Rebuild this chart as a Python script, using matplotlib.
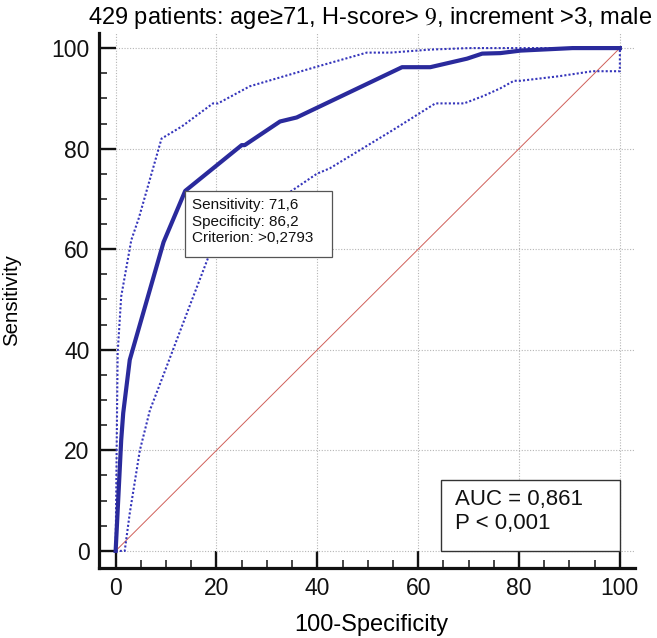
import matplotlib
matplotlib.use("Agg")
import matplotlib.pyplot as plt
from matplotlib.patches import Rectangle
from matplotlib.ticker import MultipleLocator

plt.rcParams['font.family'] = ['Liberation Sans', 'DejaVu Sans']
plt.rcParams['mathtext.fontset'] = 'stix'

# ---- data ----
roc_x = [0, 1.1, 1.5, 2.8, 9.5, 13.8, 25.0, 25.6, 32.6, 35.9, 56.8, 62.4, 69.7, 72.7, 76.3, 80.3, 90.6, 100]
roc_y = [0, 22.0, 27.4, 38.0, 61.4, 71.6, 80.7, 80.7, 85.4, 86.2, 96.2, 96.2, 97.9, 98.9, 99.0, 99.5, 100, 100]

upper_x = [0, 0.3, 0.4, 1.1, 3.1, 4.6, 9.1, 13.1, 19.3, 20.3, 26.6, 30.0, 39.9, 49.8, 54.5, 62.4, 70.0, 100]
upper_y = [0, 30.0, 39.4, 50.6, 61.8, 66.2, 82.0, 84.4, 89.0, 89.0, 92.4, 93.4, 96.3, 99.1, 99.1, 99.7, 100, 100]

lower_x = [0, 1.8, 2.8, 4.8, 6.8, 9.1, 14.9, 18.3, 25.0, 34.6, 39.9, 42.5, 54.5, 56.1, 63.4, 69.1, 73.0, 76.3, 79.0, 80.3, 87.9, 94.6, 100, 100]
lower_y = [0, 0, 7.5, 20.0, 28.0, 34.0, 49.3, 58.2, 63.5, 71.4, 75.0, 76.1, 83.4, 84.4, 89.0, 89.0, 90.5, 92.0, 93.5, 93.5, 94.4, 95.4, 95.4, 100]

diag = [0, 100]

op_sens = 71.6
op_spec = 86.2
criterion = ">0,2793"
auc_text = "AUC = 0,861"
p_text = "P < 0,001"
title = r"429 patients: age≥71, H-score> $\mathrm{9}$, increment >3, male"

ticks = [0, 20, 40, 60, 80, 100]

# ---- figure ----
W, H = 657, 638
fig = plt.figure(figsize=(W / 100, H / 100), dpi=100)
ax = fig.add_axes([98.5 / W, (H - 568) / H, (635 - 98.5) / W, (568 - 33) / H])

main_col = '#2a2a9c'
ci_col = '#3535bb'

ax.plot(diag, diag, color='#d0605a', lw=0.7, zorder=2)
ax.plot(upper_x, upper_y, color=ci_col, lw=1.5, ls=(0, (1, 1)), zorder=3, clip_on=False)
ax.plot(lower_x, lower_y, color=ci_col, lw=1.5, ls=(0, (1, 1)), zorder=3, clip_on=False)
ax.plot(roc_x, roc_y, color=main_col, lw=3.0, zorder=4, solid_joinstyle='round', clip_on=False)

ax.set_xlim(-3.4, 103)
ax.set_ylim(-3.4, 103)
ax.set_xticks(ticks)
ax.set_yticks(ticks)
ax.xaxis.set_minor_locator(MultipleLocator(5))
ax.yaxis.set_minor_locator(MultipleLocator(5))
ax.grid(True, which='major', color='#b5b5b5', lw=0.8, ls=(0, (1, 1.5)), zorder=0)
ax.set_axisbelow(True)

for s in ['top', 'right']:
    ax.spines[s].set_visible(False)
for s in ['left', 'bottom']:
    ax.spines[s].set_linewidth(2.3)
    ax.spines[s].set_color('#111111')

ax.tick_params(which='major', direction='in', length=12.2, width=1.7, labelsize=16.5, pad=6.5, colors='#111111')
ax.tick_params(which='minor', direction='in', length=5.8, width=1.1, colors='#111111')

ax.set_xlabel("100-Specificity", fontsize=17)
ax.xaxis.label.set_va('center')
ax.xaxis.set_label_coords((371.7 - 98.5) / 536.5, (568 - 625) / 535)
ax.set_ylabel("Sensitivity", fontsize=14.7)
ax.yaxis.label.set_va('center')
ax.yaxis.set_label_coords((11.5 - 98.5) / 536.5, (568 - 300) / 535)

fig.text(370 / W, 1 - 24 / H, title, ha='center', va='baseline', fontsize=17)

# operating point annotation box
ox, oy = 100 - op_spec, op_sens
bw, bh = 29.2, 13.1
ax.add_patch(Rectangle((ox, oy - bh), bw, bh, facecolor='white', edgecolor='#555555', lw=0.9, zorder=5))
ax.text(ox + 1.35, oy - 1.45,
        f"Sensitivity: {op_sens:.1f}".replace('.', ',') + "\n" +
        f"Specificity: {op_spec:.1f}".replace('.', ',') + "\n" +
        f"Criterion: {criterion}",
        ha='left', va='top', fontsize=11, linespacing=1.22, zorder=6, color='#111111')

# AUC box
ax.add_patch(Rectangle((64.6, 0), 100 - 64.6, 14.1, facecolor='white', edgecolor='#333333', lw=1.0, zorder=5))
ax.text(67.4, 12.3, auc_text + "\n" + p_text, ha='left', va='top', fontsize=16,
        linespacing=1.2, zorder=6, color='#111111')

fig.savefig("out.png", dpi=100)
